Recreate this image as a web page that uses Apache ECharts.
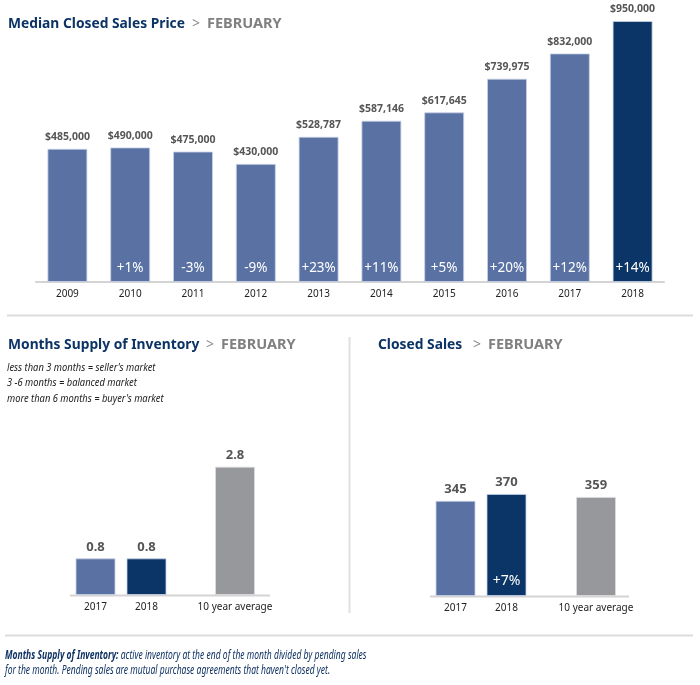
<!DOCTYPE html>
<html>
<head>
<meta charset="utf-8">
<script src="https://cdn.jsdelivr.net/npm/echarts@6/dist/echarts.min.js"></script>
<style>
html,body{margin:0;padding:0;background:#fff;}
#chart{width:700px;height:685px;}
</style>
</head>
<body>
<div id="chart"></div>
<script>
// ---- data ----
const priceYears = ['2009','2010','2011','2012','2013','2014','2015','2016','2017','2018'];
const priceValues = [485000, 490000, 475000, 430000, 528787, 587146, 617645, 739975, 832000, 950000];
const priceChange = ['', '+1%', '-3%', '-9%', '+23%', '+11%', '+5%', '+20%', '+12%', '+14%'];

const invYears = ['2017', '2018'];
const invValues = [0.8, 0.8];
const invAvgLabel = ['10 year average'];
const invAvg = [2.8];

const salesYears = ['2017', '2018'];
const salesValues = [345, 370];
const salesChange = ['', '+7%'];
const salesAvgLabel = ['10 year average'];
const salesAvg = [359];

// ---- styles ----
const LIGHT = '#5a72a3';
const DARK = '#0b3566';
const GRAY = '#97989c';
const NAVY = '#0c3366';
const FONT = '"Noto Sans", sans-serif';

const chart = echarts.init(document.getElementById('chart'), null, {renderer: 'canvas'});

function colorBy(n, lastDark) {
  return function (p) { return (p.dataIndex === n - 1 && lastDark) ? DARK : LIGHT; };
}

const axisLabelStyle = {color: '#222', fontSize: 10, fontFamily: FONT, margin: 7};
const topLabel = {show: true, position: 'top', distance: 5, color: '#555', fontSize: 13, fontWeight: 'bold', fontFamily: FONT};

function titleParts(x, y, main, mainWidthScale, febX) {
  return [
    {type: 'text', x: x, y: y, scaleX: mainWidthScale, style: {text: main, fontSize: 15, fontWeight: 'bold',
      fill: NAVY, fontFamily: FONT, verticalAlign: 'middle'}},
    {type: 'text', x: febX, y: y, style: {text: '>', fontSize: 14, fill: '#8a8a8a', fontFamily: FONT, verticalAlign: 'middle'}},
    {type: 'text', x: febX + 15, y: y, style: {text: 'FEBRUARY', fontSize: 14.5, fontWeight: 'bold', fill: '#808080',
      fontFamily: FONT, verticalAlign: 'middle'}}
  ];
}

const option = {
  animation: false,
  backgroundColor: '#fff',
  grid: [
    {left: 36, width: 628, top: 21, height: 261},
    {left: 70, width: 102, top: 320, height: 275},
    {left: 200, width: 70, top: 320, height: 275},
    {left: 430, width: 102, top: 320, height: 276},
    {left: 561, width: 70, top: 320, height: 276}
  ],
  xAxis: [
    {gridIndex: 0, type: 'category', data: priceYears, axisTick: {show: false},
     axisLine: {lineStyle: {color: '#d4d4d4', width: 2}}, axisLabel: axisLabelStyle},
    {gridIndex: 1, type: 'category', data: invYears, axisTick: {show: false},
     axisLine: {show: false}, axisLabel: axisLabelStyle},
    {gridIndex: 2, type: 'category', data: invAvgLabel, axisTick: {show: false},
     axisLine: {show: false}, axisLabel: axisLabelStyle},
    {gridIndex: 3, type: 'category', data: salesYears, axisTick: {show: false},
     axisLine: {show: false}, axisLabel: axisLabelStyle},
    {gridIndex: 4, type: 'category', data: salesAvgLabel, axisTick: {show: false},
     axisLine: {show: false}, axisLabel: axisLabelStyle}
  ],
  yAxis: [
    {gridIndex: 0, type: 'value', min: 0, max: 950000, show: false},
    {gridIndex: 1, type: 'value', min: 0, max: 6, show: false},
    {gridIndex: 2, type: 'value', min: 0, max: 6, show: false},
    {gridIndex: 3, type: 'value', min: 0, max: 1000, show: false},
    {gridIndex: 4, type: 'value', min: 0, max: 1000, show: false}
  ],
  series: [
    {type: 'bar', xAxisIndex: 0, yAxisIndex: 0, data: priceValues, barWidth: 40,
     itemStyle: {color: colorBy(priceValues.length, true), borderColor: 'rgba(200,210,230,0.8)', borderWidth: 1},
     label: {show: true, position: 'top', distance: 6, color: '#555', fontSize: 10.5, fontWeight: 'bold', fontFamily: FONT,
       formatter: p => '$' + p.value.toLocaleString('en-US')}},
    {type: 'bar', xAxisIndex: 0, yAxisIndex: 0, data: priceValues, barWidth: 40, barGap: '-100%',
     itemStyle: {color: 'transparent'}, silent: true,
     label: {show: true, position: 'insideBottom', distance: 7, color: '#fff', fontSize: 13.5, fontFamily: FONT,
       formatter: p => priceChange[p.dataIndex]}},

    {type: 'bar', xAxisIndex: 1, yAxisIndex: 1, data: invValues, barWidth: 40,
     itemStyle: {color: colorBy(invValues.length, true), borderColor: 'rgba(200,210,230,0.8)', borderWidth: 1},
     label: Object.assign({}, topLabel, {formatter: p => p.value.toFixed(1)})},
    {type: 'bar', xAxisIndex: 2, yAxisIndex: 2, data: invAvg, barWidth: 40,
     itemStyle: {color: GRAY, borderColor: 'rgba(220,220,220,0.8)', borderWidth: 1},
     label: Object.assign({}, topLabel, {formatter: p => p.value.toFixed(1)})},

    {type: 'bar', xAxisIndex: 3, yAxisIndex: 3, data: salesValues, barWidth: 40,
     itemStyle: {color: colorBy(salesValues.length, true), borderColor: 'rgba(200,210,230,0.8)', borderWidth: 1},
     label: topLabel},
    {type: 'bar', xAxisIndex: 3, yAxisIndex: 3, data: salesValues, barWidth: 40, barGap: '-100%',
     itemStyle: {color: 'transparent'}, silent: true,
     label: {show: true, position: 'insideBottom', distance: 8, color: '#fff', fontSize: 14, fontFamily: FONT,
       formatter: p => salesChange[p.dataIndex]}},
    {type: 'bar', xAxisIndex: 4, yAxisIndex: 4, data: salesAvg, barWidth: 40,
     itemStyle: {color: GRAY, borderColor: 'rgba(220,220,220,0.8)', borderWidth: 1},
     label: topLabel}
  ],
  graphic: [].concat(
    titleParts(8, 24, 'Median Closed Sales Price', 0.92, 192),
    titleParts(8, 345, 'Months Supply of Inventory', 0.92, 206),
    titleParts(378, 345, 'Closed Sales', 0.92, 473),
    [
    // market notes
    {type: 'text', x: 7, y: 360, scaleX: 0.85, style: {text: "less than 3 months = seller's market\n3 -6 months = balanced market\nmore than 6 months = buyer's market",
      fontSize: 11, fontStyle: 'italic', fill: '#222', fontFamily: FONT, lineHeight: 15.5, verticalAlign: 'top'}},
    // footnote
    {type: 'text', x: 5, y: 648, scaleX: 0.71, style: {
      text: '{b|Months Supply of Inventory:}{n| active inventory at the end of the month divided by pending sales}\n{n|for the month. Pending sales are mutual purchase agreements that haven\'t closed yet.}',
      verticalAlign: 'top',
      rich: {b: {fontSize: 12, fontWeight: 'bold', fontStyle: 'italic', fill: '#0f3263', fontFamily: FONT, lineHeight: 15},
             n: {fontSize: 12, fontStyle: 'italic', fill: '#0f3263', fontFamily: FONT, lineHeight: 15}}}},
    // separators
    {type: 'line', shape: {x1: 7, y1: 315.5, x2: 693, y2: 315.5}, style: {stroke: '#dcdcdc', lineWidth: 2}},
    {type: 'line', shape: {x1: 349.5, y1: 337, x2: 349.5, y2: 613}, style: {stroke: '#e0e0e0', lineWidth: 2}},
    {type: 'line', shape: {x1: 5, y1: 635.5, x2: 693, y2: 635.5}, style: {stroke: '#dcdcdc', lineWidth: 2}},
    // baselines for lower charts
    {type: 'line', shape: {x1: 70, y1: 595.5, x2: 270, y2: 595.5}, style: {stroke: '#d4d4d4', lineWidth: 2}, z: 0},
    {type: 'line', shape: {x1: 430, y1: 596.5, x2: 629, y2: 596.5}, style: {stroke: '#d4d4d4', lineWidth: 2}, z: 0}
    ]
  )
};
chart.setOption(option);
</script>
</body>
</html>
